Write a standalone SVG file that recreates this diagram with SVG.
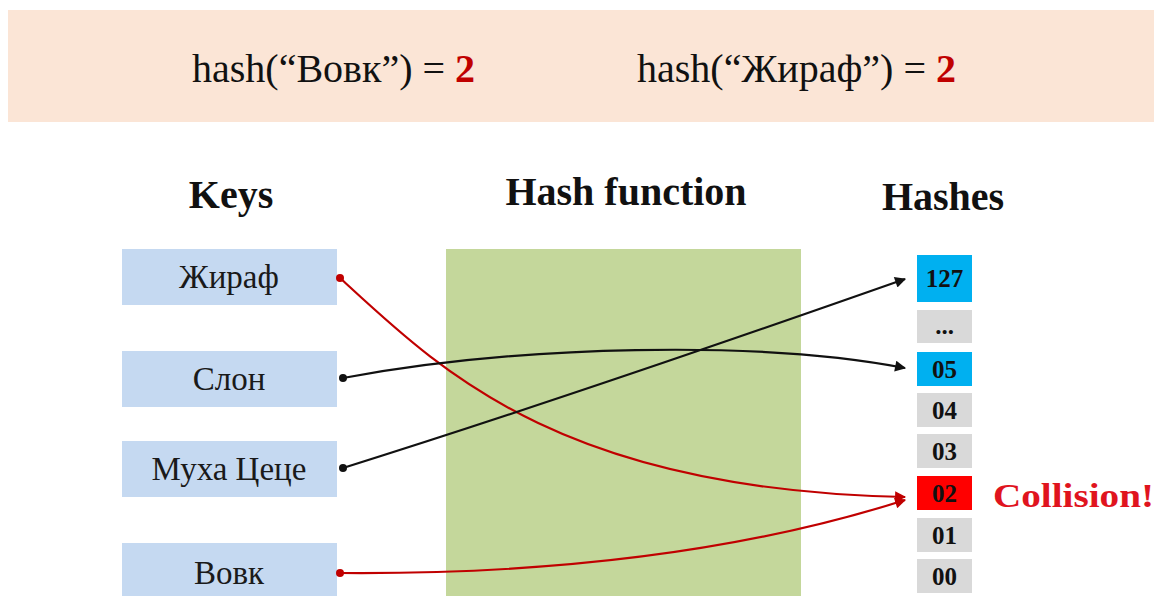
<svg xmlns="http://www.w3.org/2000/svg" width="1154" height="596" viewBox="0 0 1154 596">
  <style>
    .serif { font-family: "Liberation Serif", "Times New Roman", serif; }
    .hdr { font-size: 40px; fill: #111; }
    .red2 { fill: #c00000; font-weight: bold; }
    .title { font-size: 40px; font-weight: bold; fill: #111; text-anchor: middle; }
    .key rect { fill: #c5d9f1; }
    .key text { font-size: 33px; fill: #1a1a1a; text-anchor: middle; }
    .cell text { font-size: 25px; font-weight: bold; fill: #111; text-anchor: middle; }
    .blue { fill: #00b0f0; }
    .gray { fill: #d9d9d9; }
    .hot { fill: #ff0000; }
    .conn { fill: none; stroke-width: 2.2; }
    .blk { stroke: #111; }
    .rd { stroke: #c00000; }
  </style>
  <defs>
    <marker id="arrBlack" viewBox="0 0 10 10" refX="9" refY="5" markerWidth="6" markerHeight="5" orient="auto" markerUnits="strokeWidth">
      <path d="M0,0 L10,5 L0,10 z" fill="#111"/>
    </marker>
    <marker id="arrRed" viewBox="0 0 10 10" refX="9" refY="5" markerWidth="6" markerHeight="5" orient="auto" markerUnits="strokeWidth">
      <path d="M0,0 L10,5 L0,10 z" fill="#c00000"/>
    </marker>
  </defs>

  <rect width="1154" height="596" fill="#ffffff"/>

  <!-- header band with the two hash equations -->
  <g id="header">
    <rect x="8" y="10" width="1146" height="112" fill="#fbe5d6"/>
    <text class="serif hdr" x="192" y="82">hash(“Вовк”) = <tspan class="red2">2</tspan></text>
    <text class="serif hdr" x="637" y="82">hash(“Жираф”) = <tspan class="red2">2</tspan></text>
  </g>

  <!-- column titles -->
  <g id="titles">
    <text class="serif title" x="231" y="208">Keys</text>
    <text class="serif title" x="626" y="205">Hash function</text>
    <text class="serif title" x="943" y="210">Hashes</text>
  </g>

  <!-- hash function block -->
  <g id="hash-function">
    <rect x="446" y="249" width="355" height="347" fill="#c4d79b"/>
  </g>

  <!-- keys -->
  <g id="key-zhiraf" class="key serif">
    <rect x="122" y="249" width="215" height="56"/>
    <text x="229" y="288">Жираф</text>
  </g>
  <g id="key-slon" class="key serif">
    <rect x="122" y="351" width="215" height="56"/>
    <text x="229" y="390">Слон</text>
  </g>
  <g id="key-mukha" class="key serif">
    <rect x="122" y="441" width="215" height="56"/>
    <text x="229" y="480">Муха Цеце</text>
  </g>
  <g id="key-vovk" class="key serif">
    <rect x="122" y="543" width="215" height="53"/>
    <text x="229" y="584">Вовк</text>
  </g>

  <!-- hash slots -->
  <g id="slot-127" class="cell serif">
    <rect class="blue" x="917" y="255" width="55" height="47"/>
    <text x="944.5" y="287">127</text>
  </g>
  <g id="slot-dots" class="cell serif">
    <rect class="gray" x="917" y="310" width="55" height="33"/>
    <text x="944.5" y="334">...</text>
  </g>
  <g id="slot-05" class="cell serif">
    <rect class="blue" x="917" y="352" width="55" height="34"/>
    <text x="944.5" y="378">05</text>
  </g>
  <g id="slot-04" class="cell serif">
    <rect class="gray" x="917" y="393" width="55" height="34"/>
    <text x="944.5" y="419">04</text>
  </g>
  <g id="slot-03" class="cell serif">
    <rect class="gray" x="917" y="434" width="55" height="34"/>
    <text x="944.5" y="460">03</text>
  </g>
  <g id="slot-02" class="cell serif">
    <rect class="hot" x="917" y="476" width="55" height="34"/>
    <text x="944.5" y="502">02</text>
  </g>
  <g id="slot-01" class="cell serif">
    <rect class="gray" x="917" y="518" width="55" height="34"/>
    <text x="944.5" y="544">01</text>
  </g>
  <g id="slot-00" class="cell serif">
    <rect class="gray" x="917" y="559" width="55" height="34"/>
    <text x="944.5" y="585">00</text>
  </g>

  <g id="collision-label">
    <text class="serif" x="993" y="507" font-size="33" font-weight="bold" fill="#e0141e" textLength="161" lengthAdjust="spacingAndGlyphs">Collision!</text>
  </g>

  <!-- mappings from keys to hashes -->
  <g id="connectors">
    <path class="conn rd" d="M340,278 C440,370 560,490 905,497" marker-end="url(#arrRed)"/>
    <path class="conn blk" d="M343,378 C520,345 760,340 905,368" marker-end="url(#arrBlack)"/>
    <path class="conn blk" d="M343,468 C560,400 760,330 905,279" marker-end="url(#arrBlack)"/>
    <path class="conn rd" d="M340,573 C600,575 780,540 905,500" marker-end="url(#arrRed)"/>
    <circle cx="340" cy="278" r="4" fill="#c00000"/>
    <circle cx="343" cy="378" r="4" fill="#111"/>
    <circle cx="343" cy="468" r="4" fill="#111"/>
    <circle cx="340" cy="573" r="4" fill="#c00000"/>
  </g>
</svg>
